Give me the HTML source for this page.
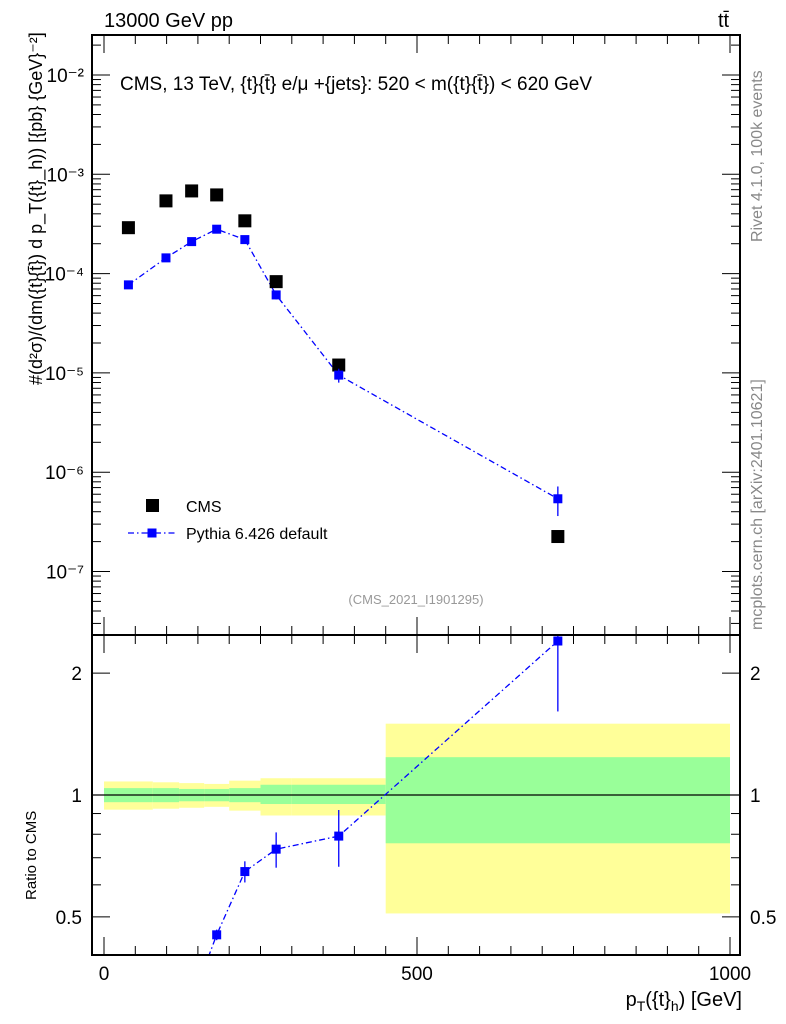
<!DOCTYPE html>
<html><head><meta charset="utf-8"><style>
body{margin:0;background:#fff}
svg{display:block;font-family:"Liberation Sans",sans-serif}
</style></head><body>
<svg id="c" width="786" height="1024" viewBox="0 0 786 1024">
<text x="104" y="27" font-size="20">13000 GeV pp</text>
<text x="718" y="27" font-size="20">tt̄</text>
<text x="120" y="90" font-size="19">CMS, 13 TeV, {t}{t̄} e/μ +{jets}: 520 &lt; m({t}{t̄}) &lt; 620 GeV</text>
<text x="416" y="604" font-size="13" fill="#999" text-anchor="middle">(CMS_2021_I1901295)</text>
<text transform="translate(762,242) rotate(-90)" font-size="16" fill="#888">Rivet 4.1.0,  100k events</text>
<text transform="translate(762,630) rotate(-90)" font-size="16" fill="#888">mcplots.cern.ch [arXiv:2401.10621]</text>
<text transform="translate(42,385) rotate(-90)" font-size="18">#(d²σ)/(dm({t}{t̄}) d p_T({t}_h)) [{pb} {GeV}⁻²]</text>
<text transform="translate(36,900) rotate(-90)" font-size="15">Ratio to CMS</text>
<text x="742" y="1006" font-size="20" text-anchor="end">p<tspan font-size="14" dy="5">T</tspan><tspan dy="-5">({t}</tspan><tspan font-size="14" dy="5">h</tspan><tspan dy="-5">) [GeV]</tspan></text>
<g id="g"></g>
<rect x="146" y="499" width="13" height="13" fill="#000"/>
<text x="186" y="512" font-size="16">CMS</text>
<line x1="128" y1="533" x2="176" y2="533" stroke="#00f" stroke-width="1.3" stroke-dasharray="6,3,1.5,3"/>
<rect x="147.5" y="528.5" width="9" height="9" fill="#00f"/>
<text x="186" y="539" font-size="16">Pythia 6.426 default</text>
</svg>
<script>
const binEdges=[0,78,120,160,200,250,300,450,1000];
const dataVals=[2.9e-4,5.4e-4,6.8e-4,6.2e-4,3.4e-4,8.3e-5,1.2e-5,2.25e-7];
const mcVals=[7.7e-5,1.44e-4,2.1e-4,2.8e-4,2.2e-4,6.1e-5,9.5e-6,5.4e-7];
const mcRelErr=[0.02,0.02,0.02,0.03,0.06,0.1,0.16,0.33];
const bandYellowUp=[1.08,1.075,1.07,1.065,1.085,1.10,1.10,1.50];
const bandYellowDn=[0.92,0.925,0.93,0.935,0.915,0.89,0.89,0.51];
const bandGreenUp=[1.04,1.04,1.035,1.035,1.04,1.06,1.06,1.24];
const bandGreenDn=[0.96,0.96,0.965,0.965,0.96,0.95,0.95,0.76];
const mainTicks=["10⁻²","10⁻³","10⁻⁴","10⁻⁵","10⁻⁶","10⁻⁷"];
const mainTickExp=[-2,-3,-4,-5,-6,-7];
const ratioTicks=[2,1,0.5];
const xTicks=[0,500,1000];

const NS="http://www.w3.org/2000/svg",g=document.getElementById('g');
const L=92,R=740,T=35,M=635,B=955;
const X=v=>104+v*0.626;
const Y=v=>75-(Math.log10(v)+2)*99.3;
const YR=v=>795-Math.log10(v)*405;
function el(t,a,name){const e=document.createElementNS(NS,t);for(const k in a)e.setAttribute(k,a[k]);


g.appendChild(e);return e;}
for(let i=0;i<8;i++){
 const x1=X(binEdges[i]),x2=X(binEdges[i+1]);
 el('rect',{x:x1,y:YR(bandYellowUp[i]),width:x2-x1,height:YR(bandYellowDn[i])-YR(bandYellowUp[i]),fill:'#ffff99'},'band-yellow');
 el('rect',{x:x1,y:YR(bandGreenUp[i]),width:x2-x1,height:YR(bandGreenDn[i])-YR(bandGreenUp[i]),fill:'#99ff99'},'band-green');
}
el('line',{x1:L,x2:R,y1:YR(1),y2:YR(1),stroke:'#000','stroke-width':1.3},'ratio-unity-line');
const cx=binEdges.slice(0,8).map((e,i)=>(e+binEdges[i+1])/2);
el('polyline',{points:cx.map((c,i)=>X(c)+','+Y(mcVals[i])).join(' '),fill:'none',stroke:'#00f','stroke-width':1.3,'stroke-dasharray':'6,3,1.5,3'},'pythia-line');
for(let i=0;i<8;i++){
 const x=X(cx[i]);
 el('rect',{x:x-6.5,y:Y(dataVals[i])-6.5,width:13,height:13,fill:'#000'},'cms-point');
 const y1=Y(mcVals[i]*(1+mcRelErr[i])),y2=Y(mcVals[i]*(1-mcRelErr[i]));
 el('line',{x1:x,x2:x,y1:y1,y2:y2,stroke:'#00f','stroke-width':1.3},'pythia-error');
 el('rect',{x:x-4.5,y:Y(mcVals[i])-4.5,width:9,height:9,fill:'#00f'},'pythia-point');
}
const ratio=mcVals.map((v,i)=>v/dataVals[i]);
const clip=el('clipPath',{id:'rc'},'ratio-clip');
const cr=document.createElementNS(NS,'rect');cr.setAttribute('x',L);cr.setAttribute('y',M);cr.setAttribute('width',R-L);cr.setAttribute('height',B-M);clip.appendChild(cr);
const rg=el('g',{'clip-path':'url(#rc)'},'ratio-series');
function rel(t,a,name){const e=document.createElementNS(NS,t);for(const k in a)e.setAttribute(k,a[k]);


rg.appendChild(e);return e;}
rel('polyline',{points:cx.map((c,i)=>X(c)+','+YR(ratio[i])).join(' '),fill:'none',stroke:'#00f','stroke-width':1.3,'stroke-dasharray':'6,3,1.5,3'},'ratio-line');
for(let i=0;i<8;i++){const x=X(cx[i]);
 rel('line',{x1:x,x2:x,y1:YR(ratio[i]*(1+mcRelErr[i])),y2:YR(ratio[i]*(1-mcRelErr[i])),stroke:'#00f','stroke-width':1.3},'ratio-error');
 rel('rect',{x:x-4.5,y:YR(ratio[i])-4.5,width:9,height:9,fill:'#00f'},'ratio-point');}
el('rect',{x:L,y:T,width:R-L,height:M-T,fill:'none',stroke:'#000','stroke-width':2},'main-frame');
el('rect',{x:L,y:M,width:R-L,height:B-M,fill:'none',stroke:'#000','stroke-width':2},'ratio-frame');
for(let d=-8;d<=-1;d++)for(let m=1;m<10;m++){const y=Y(m*Math.pow(10,d));if(y<T||y>M)continue;const l=m==1?18:9;
 el('line',{x1:L,x2:L+l,y1:y,y2:y,stroke:'#000','stroke-width':1},'y-tick');el('line',{x1:R,x2:R-l,y1:y,y2:y,stroke:'#000','stroke-width':1},'y-tick');}
mainTickExp.forEach((e,i)=>{const t=el('text',{x:L-8,y:Y(Math.pow(10,e))+7,'font-size':19,'text-anchor':'end'},'y-tick-label');t.textContent=mainTicks[i];});
[0.5,0.6,0.7,0.8,0.9,1,2].forEach(v=>{const y=YR(v),l=(v==1||v==2||v==0.5)?18:9;
 el('line',{x1:L,x2:L+l,y1:y,y2:y,stroke:'#000','stroke-width':1},'ratio-tick');el('line',{x1:R,x2:R-l,y1:y,y2:y,stroke:'#000','stroke-width':1},'ratio-tick');});
ratioTicks.forEach(v=>{const y=YR(v)+7;
 let t=el('text',{x:L-10,y:y,'font-size':19,'text-anchor':'end'},'ratio-tick-label');t.textContent=v;
 t=el('text',{x:R+10,y:y,'font-size':19},'ratio-tick-label-right');t.textContent=v;});
for(let v=0;v<=1000;v+=50){const x=X(v),l=v%500==0?18:9;
 [[M,1],[B,-1],[T,1],[M,-1]].forEach(([y0,s])=>el('line',{x1:x,x2:x,y1:y0,y2:y0+s*l,stroke:'#000','stroke-width':1},'x-tick'));}
xTicks.forEach(v=>{const t=el('text',{x:X(v),y:980,'font-size':19,'text-anchor':'middle'},'x-tick-label');t.textContent=v;});
</script>
</body></html>
